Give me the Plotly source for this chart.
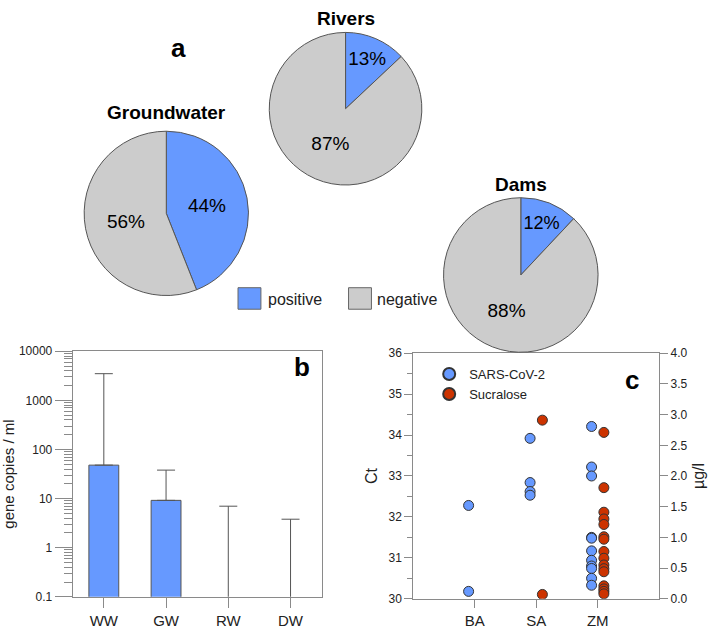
import plotly.graph_objects as go

W, H = 711, 639
def px(x): return x / W
def py(y): return 1 - y / H

FONT = "Liberation Sans, Arial, sans-serif"
BLUE = "#6699FF"
GREY = "#CCCCCC"
RED = "#CC3300"
AX = "#8a8a8a"

# ---- panel a data ----
pie_names = ["Groundwater", "Rivers", "Dams"]
pie_labels = ["positive", "negative"]
groundwater = [44, 56]
rivers = [13, 87]
dams = [12, 88]

# ---- panel b data ----
b_categories = ["WW", "GW", "RW", "DW"]
b_values = [48, 9.2, 0, 0]
b_upper = [3500, 38, 7.0, 3.8]
b_tickvals = [0.1, 1, 10, 100, 1000, 10000]
b_ticktext = ["0.1", "1", "10", "100", "1000", "10000"]

# ---- panel c data ----
c_sites = ["BA", "SA", "ZM"]
sars_site = ["BA", "BA", "SA", "SA", "SA", "SA",
             "ZM", "ZM", "ZM", "ZM", "ZM", "ZM", "ZM", "ZM", "ZM", "ZM", "ZM"]
sars_ct = [32.28, 30.18, 33.92, 32.84, 32.62, 32.53,
           34.21, 33.22, 33.0, 31.5, 31.48, 31.17, 30.94, 30.8, 30.74, 30.5, 30.33]
sucr_site = ["SA", "SA",
             "ZM", "ZM", "ZM", "ZM", "ZM", "ZM", "ZM", "ZM", "ZM", "ZM", "ZM", "ZM", "ZM", "ZM", "ZM", "ZM"]
sucr_ugl = [2.91, 0.07,
            2.71, 1.81, 1.41, 1.30, 1.21, 1.01, 0.97, 0.77, 0.66, 0.55, 0.49, 0.44, 0.21, 0.16, 0.12, 0.08]

fig = go.Figure()

# ---------- pies ----------
pie_domains = {
    "Groundwater": ([80, 248], [127, 295]),
    "Rivers": ([266, 422], [26, 182]),
    "Dams": ([441, 599], [195, 353]),
}
for name, vals in zip(pie_names, [groundwater, rivers, dams]):
    (x0, x1), (y0, y1) = pie_domains[name]
    fig.add_trace(go.Pie(
        labels=pie_labels, values=vals, sort=False, direction="clockwise", rotation=0,
        marker=dict(colors=[BLUE, GREY], line=dict(color="#555555", width=1)),
        texttemplate="%{value}%", textposition="inside", insidetextorientation="horizontal",
        textfont=dict(family=FONT, size=19, color="black"),
        domain=dict(x=[px(x0), px(x1)], y=[py(y1), py(y0)]),
        showlegend=False, hoverinfo="skip",
    ))

# ---------- panel b ----------
fig.add_trace(go.Bar(
    x=b_categories, y=[v if v > 0 else None for v in b_values],
    width=0.48, marker=dict(color=BLUE, line=dict(color="#555555", width=1)),
    xaxis="x", yaxis="y", showlegend=False, hoverinfo="skip",
))
# error whiskers start at the bar top, or below the axis floor when there is no bar
b_base = [v if v > 0 else b_tickvals[0] / 2 for v in b_values]
fig.add_trace(go.Scatter(
    x=b_categories, y=b_base, mode="markers", marker=dict(size=1, opacity=0),
    error_y=dict(type="data", symmetric=False,
                 array=[u - b for u, b in zip(b_upper, b_base)],
                 arrayminus=[0] * len(b_base),
                 color="#555555", thickness=1, width=9),
    xaxis="x", yaxis="y", showlegend=False, hoverinfo="skip", cliponaxis=True,
))

# ---------- panel c ----------
site_pos = {s: i + 1 for i, s in enumerate(c_sites)}
fig.add_trace(go.Scatter(
    x=[site_pos[s] - 0.1 for s in sars_site], y=sars_ct, mode="markers", name="SARS-CoV-2",
    marker=dict(size=10, color=BLUE, line=dict(color="#333333", width=1)),
    xaxis="x2", yaxis="y2", legend="legend2", hoverinfo="skip",
))
fig.add_trace(go.Scatter(
    x=[site_pos[s] + 0.1 for s in sucr_site], y=sucr_ugl, mode="markers", name="Sucralose",
    marker=dict(size=10, color=RED, line=dict(color="#333333", width=1)),
    xaxis="x2", yaxis="y3", legend="legend2", hoverinfo="skip",
))

minor_log = [m * 10 ** k for k in range(-1, 4) for m in range(2, 10)]

axis_common = dict(showline=True, linecolor=AX, linewidth=1, mirror=True,
                   ticks="outside", tickcolor=AX, showgrid=False, zeroline=False,
                   tickfont=dict(family=FONT, size=12, color="#222222"))
xaxis_common = {k: v for k, v in axis_common.items() if k != "tickfont"}

fig.update_layout(
    width=W, height=H, margin=dict(l=0, r=0, t=0, b=0),
    paper_bgcolor="white", plot_bgcolor="white",
    font=dict(family=FONT, color="#222222"),
    xaxis=dict(domain=[px(70), px(320)], anchor="y", type="category",
               range=[-0.5, 3.5], ticklen=10, **xaxis_common,
               tickfont=dict(family=FONT, size=15, color="#222222")),
    yaxis=dict(domain=[py(603), py(352)], anchor="x", type="log", range=[-1, 4],
               tickvals=b_tickvals, ticktext=b_ticktext, ticklen=17,
               minor=dict(tickvals=minor_log, ticks="outside", ticklen=8, tickcolor=AX),
               title=dict(text="gene copies / ml", font=dict(family=FONT, size=15), standoff=8),
               **axis_common),
    xaxis2=dict(domain=[px(412), px(659)], anchor="y2", range=[0, 4],
                tickvals=[1, 2, 3], ticktext=c_sites, ticklen=8, **xaxis_common,
                tickfont=dict(family=FONT, size=15, color="#222222")),
    yaxis2=dict(domain=[py(605), py(354)], anchor="x2", range=[30, 36], dtick=1, ticklen=8,
                minor=dict(dtick=0.5, ticks="outside", ticklen=5, tickcolor=AX),
                title=dict(text="Ct", font=dict(family=FONT, size=16), standoff=6),
                **axis_common),
    yaxis3=dict(domain=[py(605), py(354)], anchor="x2", overlaying="y2", side="right",
                range=[0, 4], dtick=0.5, tickformat=".1f", ticklen=8,
                title=dict(text="µg/l", font=dict(family=FONT, size=16), standoff=6),
                **axis_common),
    legend2=dict(x=px(428), y=py(360), xanchor="left", yanchor="top",
                 bgcolor="rgba(0,0,0,0)", font=dict(family=FONT, size=13, color="#222222"),
                 itemsizing="constant", tracegroupgap=0),
)

# pie titles and panel letters
for txt, x, y in [("Groundwater", 164, 108), ("Rivers", 344, 12), ("Dams", 520, 181)]:
    fig.add_annotation(x=px(x), y=py(y), xref="paper", yref="paper", text=f"<b>{txt}</b>",
                       xanchor="center", yanchor="middle", showarrow=False,
                       font=dict(family=FONT, size=19, color="black"))
for txt, x, y in [("a", 176, 42), ("b", 300, 368), ("c", 632, 381)]:
    fig.add_annotation(x=px(x), y=py(y), xref="paper", yref="paper", text=f"<b>{txt}</b>",
                       xanchor="center", yanchor="middle", showarrow=False,
                       font=dict(family=FONT, size=26, color="black"))

# pie legend
for lab, col, bx, tx in [("positive", BLUE, 236, 264), ("negative", GREY, 347, 374)]:
    fig.add_shape(type="rect", xref="paper", yref="paper",
                  x0=px(bx), x1=px(bx + 23), y0=py(309), y1=py(287),
                  fillcolor=col, line=dict(color="#666666", width=1))
    fig.add_annotation(x=px(tx), y=py(299), xref="paper", yref="paper", text=lab,
                       xanchor="left", yanchor="middle", showarrow=False,
                       font=dict(family=FONT, size=16, color="#222222"))

fig.write_html("out.html", config={"displayModeBar": False},
               post_script="document.body.style.margin='0';")
